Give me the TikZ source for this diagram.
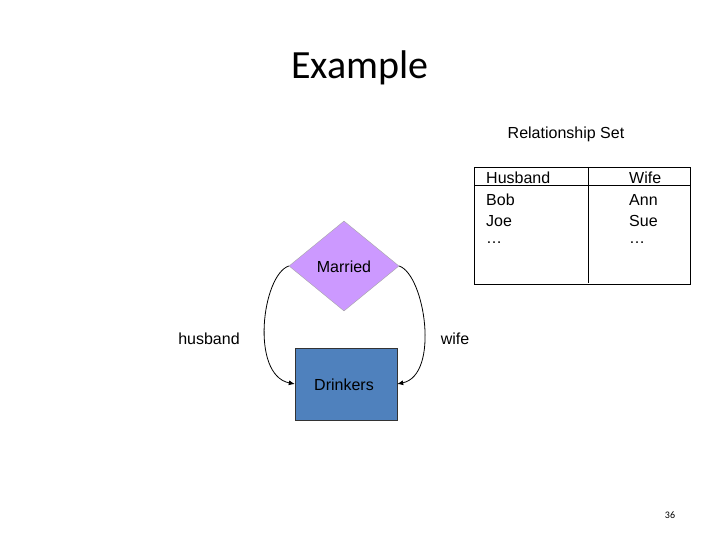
\documentclass[tikz,border=0pt]{standalone}
\usepackage{fontspec}
\setmainfont{Liberation Sans}
\newfontfamily\titlefont{Carlito}
\usetikzlibrary{shapes.geometric,arrows.meta}
\tikzset{
  lbl/.style={font=\fontsize{16}{18}\selectfont, inner sep=0pt},
  conn/.style={thick, -{Latex[length=6pt,width=5pt]}},
  tline/.style={line width=0.6pt}
}
\begin{document}
\begin{tikzpicture}[x=1pt,y=-1pt]
\useasboundingbox[fill=white] (0,0) rectangle (720,540);
\node[font=\titlefont\fontsize{40}{44}\selectfont] (title) at (360,68) {Example};
\node[lbl] (rs) at (566,134) {Relationship Set};
% table
\draw[tline] (474,167) rectangle (690,284);
\draw[tline] (474,185) -- (690,185);
\draw[tline] (588,167) -- (588,283);
\node[lbl,anchor=west] (h0) at (486,178) {Husband};
\node[lbl,anchor=west] (h1) at (486,200) {Bob};
\node[lbl,anchor=west] (h2) at (486,221) {Joe};
\node[lbl,anchor=west] (h3) at (486,243) {\ldots};
\node[lbl,anchor=west] (w0) at (629,178) {Wife};
\node[lbl,anchor=west] (w1) at (629,200) {Ann};
\node[lbl,anchor=west] (w2) at (629,221) {Sue};
\node[lbl,anchor=west] (w3) at (629,243) {\ldots};
% ER
\node[diamond, draw=gray!70, fill={rgb,255:red,204;green,153;blue,255}, minimum width=110pt, minimum height=90pt, inner sep=0pt] (married) at (344,266) {};
\node[lbl] at (344,267) {Married};
\node[draw=black!80, fill={rgb,255:red,79;green,129;blue,189}, minimum width=102pt, minimum height=72pt, inner sep=0pt] (drinkers) at (346,384) {};
\node[lbl] at (344,385) {Drinkers};
\draw[conn] (married.west) .. controls (262,275) and (250,375) .. (drinkers.west);
\draw[conn] (married.east) .. controls (425,275) and (440,375) .. (drinkers.east);
\node[lbl] (hus) at (209,339) {husband};
\node[lbl] (wife) at (455,339) {wife};
\node[font=\titlefont\fontsize{10}{12}\selectfont] (num) at (670,515) {36};
\end{tikzpicture}
\end{document}
